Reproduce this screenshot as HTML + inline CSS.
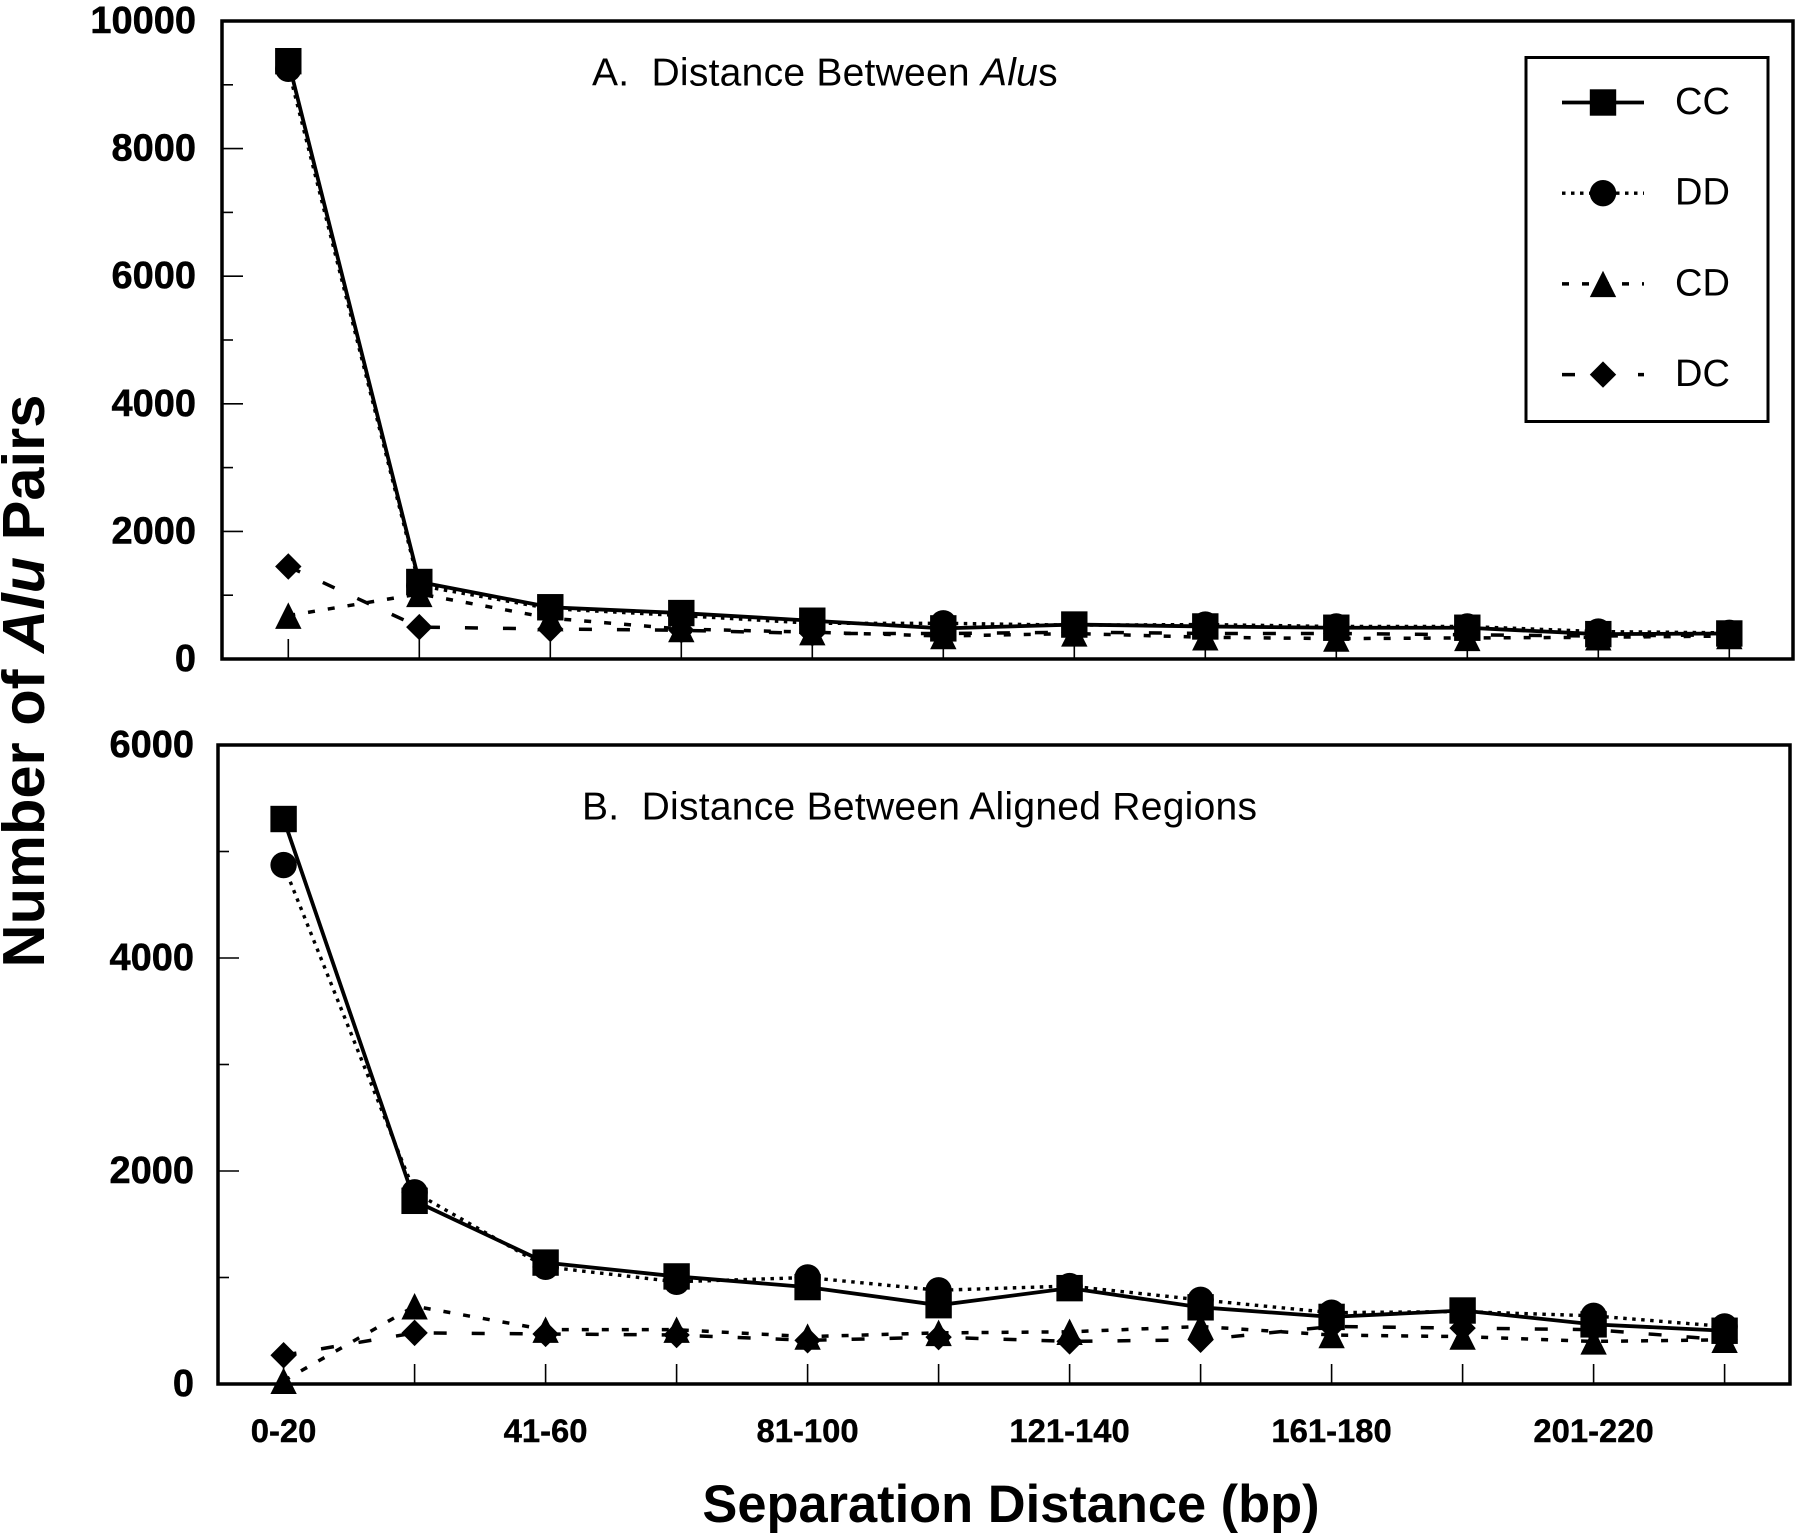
<!DOCTYPE html>
<html lang="en">
<head>
<meta charset="utf-8">
<title>Alu pair separation distance</title>
<style>
html,body{margin:0;padding:0;background:#fff;}
svg{display:block;}
text{font-family:"Liberation Sans",sans-serif;fill:#000;white-space:pre;}
.tick{font-weight:bold;font-size:38px;stroke:#000;stroke-width:0.5px;}
.xtick{font-weight:bold;font-size:32.8px;stroke:#000;stroke-width:0.4px;}
.title{font-size:39px;}
.legend-label{font-size:38px;}
</style>
</head>
<body>
<svg id="chart" xmlns="http://www.w3.org/2000/svg" width="1800" height="1538" viewBox="0 0 1800 1538">
<rect x="0" y="0" width="1800" height="1538" fill="#fff"/>
<text transform="translate(44,681) rotate(-90)" text-anchor="middle" font-size="59.6" font-weight="bold">Number of <tspan font-style="italic">Alu</tspan> Pairs</text>
<text x="1011" y="1522" text-anchor="middle" font-size="52.4" font-weight="bold">Separation Distance (bp)</text>
<text class="title" x="592" y="85.5" letter-spacing="0.25">A.  Distance Between <tspan font-style="italic">Alu</tspan>s</text>
<text class="title" x="582" y="819.5" letter-spacing="0.27">B.  Distance Between Aligned Regions</text>
<g id="panels"></g>
<g>
<rect x="1526" y="57.5" width="242" height="364" fill="#fff" stroke="#000" stroke-width="3"/>
<g id="legend-entries"></g>
</g>
</svg>
<script>
const categories = ['0-20','21-40','41-60','61-80','81-100','101-120','121-140','141-160','161-180','181-200','201-220','221-240'];
const xTickLabelsB = ['0-20','','41-60','','81-100','','121-140','','161-180','','201-220',''];
const seriesNames = ['DC','CD','DD','CC'];

const panelA_CC = [9370,1207,811,720,600,480,540,510,490,490,390,400];
const panelA_DD = [9250,1150,790,680,560,560,530,540,510,510,430,410];
const panelA_CD = [680,1020,640,470,420,360,400,340,320,330,340,360];
const panelA_DC = [1450,500,470,450,400,400,420,400,400,380,360,380];

const panelB_CC = [5305,1720,1140,1010,910,740,900,720,630,690,560,500];
const panelB_DD = [4873,1800,1100,960,1000,880,920,790,670,680,640,540];
const panelB_CD = [30,730,510,510,445,480,490,540,460,445,400,415];
const panelB_DC = [270,480,470,460,410,440,400,415,540,525,510,415];

const yTicksA = [0,1000,2000,3000,4000,5000,6000,7000,8000,9000,10000];
const yTicksB = [0,1000,2000,3000,4000,5000,6000];
const yLabelsA = ['0','2000','4000','6000','8000','10000'];
const yLabelsB = ['0','2000','4000','6000'];

const NS = 'http://www.w3.org/2000/svg';
const LINE_STYLES = {
  CC:{dash:null,width:3.8},
  DD:{dash:'3.5 5.5',width:3.4},
  CD:{dash:'7 13',width:3.5},
  DC:{dash:'13 25',width:3.5}
};
const MARKER = 13.2;

function make(tag, attrs, parent, txt){
  const el = document.createElementNS(NS, tag);
  for(const k in attrs){ el.setAttribute(k, attrs[k]); }
  if(txt !== undefined){ el.textContent = txt; }
  parent.appendChild(el);
  return el;
}
function marker(name, cx, cy, parent){
  const r = MARKER;
  let el;
  if(name === 'CC'){
    el = make('rect',{x:cx-r,y:cy-r,width:2*r,height:2*r,fill:'#000'},parent);
  } else if(name === 'DD'){
    el = make('circle',{cx:cx,cy:cy,r:r,fill:'#000'},parent);
  } else if(name === 'CD'){
    el = make('polygon',{points:[cx,cy-r,cx+r,cy+r,cx-r,cy+r].join(' '),fill:'#000'},parent);
  } else {
    el = make('polygon',{points:[cx,cy-r,cx+r,cy,cx,cy+r,cx-r,cy].join(' '),fill:'#000'},parent);
  }
  return el;
}
function drawPanel(cfg){
  const root = document.getElementById('panels');
  const g = make('g',{},root);
  
  
  const xScale = i => cfg.x0 + i * cfg.dx;
  const yScale = v => cfg.bottom - v * (cfg.bottom - cfg.top) / cfg.yMax;

  const frame = make('rect',{x:cfg.left,y:cfg.top,width:cfg.right-cfg.left,height:cfg.bottom-cfg.top,fill:'none',stroke:'#000','stroke-width':3.5},g);
  
  

  cfg.yTicks.forEach(v => {
    const major = v % 2000 === 0;
    const t = make('line',{x1:cfg.left,x2:cfg.left+(major?21:11),y1:yScale(v),y2:yScale(v),stroke:'#000','stroke-width':1.6},g);
    
    
  });
  cfg.yLabels.forEach(s => {
    const t = make('text',{class:'tick',x:cfg.labelX,y:yScale(+s)+12,'text-anchor':'end'},g,s);
    
    
  });
  categories.forEach((c,i) => {
    const t = make('line',{x1:xScale(i),x2:xScale(i),y1:cfg.bottom,y2:cfg.bottom-20,stroke:'#000','stroke-width':1.6},g);
    
    
  });
  if(cfg.xLabels){
    cfg.xLabels.forEach((s,i) => {
      if(!s) return;
      const t = make('text',{class:'xtick',x:xScale(i),y:1442,'text-anchor':'middle'},g,s);
      
      
    });
  }
  seriesNames.forEach(name => {
    const vals = cfg.series[name];
    const st = LINE_STYLES[name];
    const pts = vals.map((v,i) => xScale(i) + ',' + yScale(v)).join(' ');
    const attrs = {points:pts,fill:'none',stroke:'#000','stroke-width':st.width};
    if(st.dash){ attrs['stroke-dasharray'] = st.dash; }
    const line = make('polyline',attrs,g);
    
    
  });
  seriesNames.forEach(name => {
    cfg.series[name].forEach((v,i) => {
      const m = marker(name, xScale(i), yScale(v), g);
      
      
    });
  });
}
drawPanel({id:'a',left:222,right:1793,top:21,bottom:659,x0:288.3,dx:131,yMax:10000,labelX:196,
  yTicks:yTicksA,yLabels:yLabelsA,xLabels:null,
  series:{CC:panelA_CC,DD:panelA_DD,CD:panelA_CD,DC:panelA_DC}});
drawPanel({id:'b',left:218,right:1790,top:745,bottom:1384,x0:283.6,dx:131,yMax:6000,labelX:194,
  yTicks:yTicksB,yLabels:yLabelsB,xLabels:xTickLabelsB,
  series:{CC:panelB_CC,DD:panelB_DD,CD:panelB_CD,DC:panelB_DC}});

const legendOrder = ['CC','DD','CD','DC'];
const legendRoot = document.getElementById('legend-entries');
legendOrder.forEach((name,i) => {
  const cy = 102.5 + i * 90.7;
  const st = LINE_STYLES[name];
  const g = make('g',{},legendRoot);
  
  
  const attrs = {x1:1562,x2:1644,y1:cy,y2:cy,stroke:'#000','stroke-width':st.width};
  if(st.dash){ attrs['stroke-dasharray'] = st.dash; }
  const l = make('line',attrs,g);
  
  
  const m = marker(name,1603,cy,g);
  
  
  const t = make('text',{class:'legend-label',x:1675,y:cy+11.5},g,name);
  
  
});
</script>
</body>
</html>
